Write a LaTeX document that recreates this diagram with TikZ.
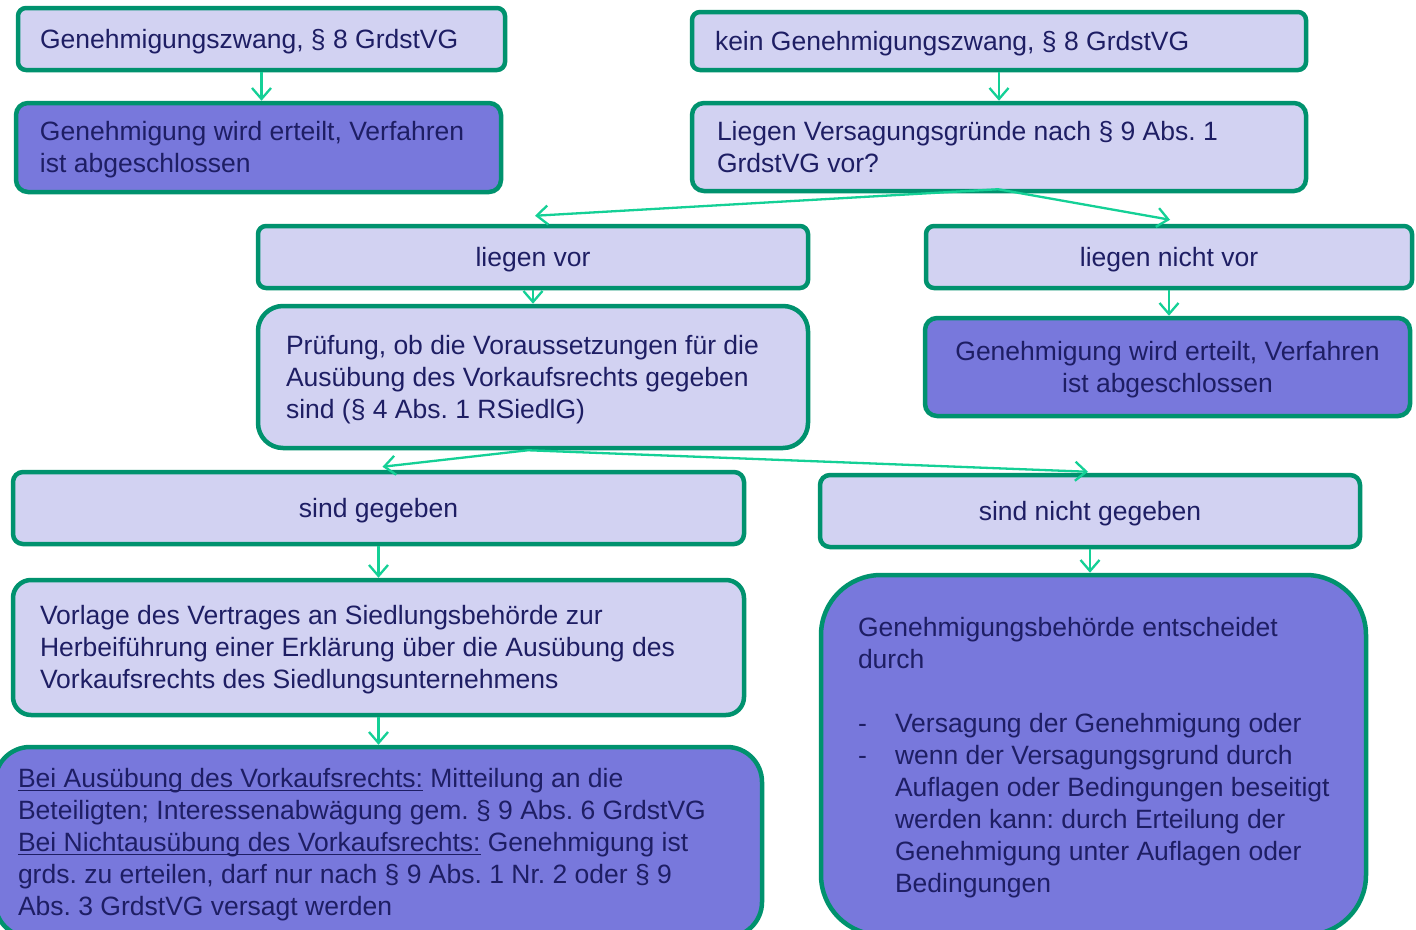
\documentclass[tikz,border=0pt]{standalone}
\usepackage{fontspec}
\setmainfont{Liberation Sans}
\usetikzlibrary{arrows.meta}
\definecolor{bord}{HTML}{00926E}
\definecolor{arrg}{HTML}{14D096}
\definecolor{lightf}{HTML}{D2D2F2}
\definecolor{darkf}{HTML}{7878DC}
\definecolor{txt}{HTML}{1E1E64}
\frenchspacing
\newcommand\boxtext[3]{\raisebox{-3pt}[\height][\depth]{\makebox[#2][l]{\hspace*{#1}\begin{tabular}{@{}l@{}}#3\end{tabular}}}}
\newcommand\ctrtext[1]{\raisebox{-3pt}[\height][\depth]{\begin{tabular}{@{}c@{}}#1\end{tabular}}}
\newcommand\ulin[1]{\setbox0\hbox{#1}\rlap{\rule[-3.5pt]{\wd0}{1.3pt}}\box0\relax}
\begin{document}
\begin{tikzpicture}[x=1pt,y=-1pt,
 base/.style={draw=bord, line width=4.5pt, inner sep=0pt, text=txt, font=\fontsize{26.5}{32}\selectfont},
 lbox/.style={base, fill=lightf},
 dbox/.style={base, fill=darkf},
 arr/.style={draw=arrg, line width=2.3pt, -{Straight Barb[length=11pt,width=19pt]}}]
\useasboundingbox (0,0) rectangle (1416,929);
\clip (0,0) rectangle (1416,929);
\fill[white] (0,0) rectangle (1416,929);

\node[lbox, rounded corners=8pt, minimum width=487pt, minimum height=62pt] (A) at (261.5,39) {\boxtext{22pt}{487pt}{Genehmigungszwang, § 8 GrdstVG}};
\node[dbox, rounded corners=12pt, minimum width=485pt, minimum height=89pt] (B) at (258.5,147.5) {\boxtext{24pt}{485pt}{Genehmigung wird erteilt, Verfahren\\ist abgeschlossen}};
\node[lbox, rounded corners=8pt, minimum width=614pt, minimum height=58pt] (C) at (999,41) {\boxtext{23pt}{614pt}{kein Genehmigungszwang, § 8 GrdstVG}};
\node[lbox, rounded corners=12pt, minimum width=614pt, minimum height=88pt] (D) at (999,147) {\boxtext{25pt}{614pt}{Liegen Versagungsgründe nach § 9 Abs. 1\\GrdstVG vor?}};
\node[lbox, rounded corners=8pt, minimum width=550pt, minimum height=62pt] (E) at (533,257) {\ctrtext{liegen vor}};
\node[lbox, rounded corners=8pt, minimum width=486pt, minimum height=62pt] (F) at (1169,257) {\ctrtext{liegen nicht vor}};
\node[lbox, rounded corners=25pt, minimum width=550pt, minimum height=142pt] (G) at (533,377) {\boxtext{28pt}{550pt}{Prüfung, ob die Voraussetzungen für die\\Ausübung des Vorkaufsrechts gegeben\\sind (§ 4 Abs. 1 RSiedlG)}};
\node[dbox, rounded corners=12pt, minimum width=485pt, minimum height=98pt] (H) at (1167.5,367) {\ctrtext{Genehmigung wird erteilt, Verfahren\\ist abgeschlossen}};
\node[lbox, rounded corners=10pt, minimum width=731pt, minimum height=72pt] (I) at (378.5,508) {\ctrtext{sind gegeben}};
\node[lbox, rounded corners=10pt, minimum width=540pt, minimum height=72pt] (J) at (1090,511) {\ctrtext{sind nicht gegeben}};
\node[lbox, rounded corners=18pt, minimum width=731pt, minimum height=135pt] (K) at (378.5,647.5) {\boxtext{27pt}{731pt}{Vorlage des Vertrages an Siedlungsbehörde zur\\Herbeiführung einer Erklärung über die Ausübung des\\Vorkaufsrechts des Siedlungsunternehmens}};
\node[dbox, rounded corners=35pt, minimum width=767pt, minimum height=190pt] (L) at (378.5,842) {\boxtext{23pt}{767pt}{\ulin{Bei Ausübung des Vorkaufsrechts:} Mitteilung an die\\Beteiligten; Interessenabwägung gem. § 9 Abs. 6 GrdstVG\\\ulin{Bei Nichtausübung des Vorkaufsrechts:} Genehmigung ist\\grds. zu erteilen, darf nur nach § 9 Abs. 1 Nr. 2 oder § 9\\Abs. 3 GrdstVG versagt werden}};
\node[dbox, rounded corners=60pt, minimum width=545pt, minimum height=360pt] (M) at (1093.5,755) {\boxtext{37pt}{545pt}{Genehmigungsbehörde entscheidet\\durch\\ \\\makebox[37pt][l]{-}Versagung der Genehmigung oder\\\makebox[37pt][l]{-}wenn der Versagungsgrund durch\\\hspace*{37pt}Auflagen oder Bedingungen beseitigt\\\hspace*{37pt}werden kann: durch Erteilung der\\\hspace*{37pt}Genehmigung unter Auflagen oder\\\hspace*{37pt}Bedingungen}};

\draw[arr] (A.south) -- (A.south |- B.north);
\draw[arr] (C.south) -- (C.south |- D.north);
\draw[arr] ([xshift=-1pt,yshift=4pt]D.south) -- ([xshift=2pt,yshift=8pt]E.north);
\draw[arr] ([xshift=-1pt,yshift=4pt]D.south) -- ([xshift=1pt,yshift=4pt]F.north);
\draw[arr] (E.south) -- (G.north);
\draw[arr] (F.south) -- (F.south |- H.north);
\draw[arr] ([xshift=-5pt]G.south) -- ([xshift=4pt,yshift=3pt]I.north);
\draw[arr] ([xshift=-5pt]G.south) -- ([xshift=-2pt,yshift=1pt]J.north);
\draw[arr] (I.south) -- (K.north);
\draw[arr] (J.south) -- (J.south |- M.north);
\draw[arr] (K.south) -- (L.north);
\end{tikzpicture}
\end{document}
